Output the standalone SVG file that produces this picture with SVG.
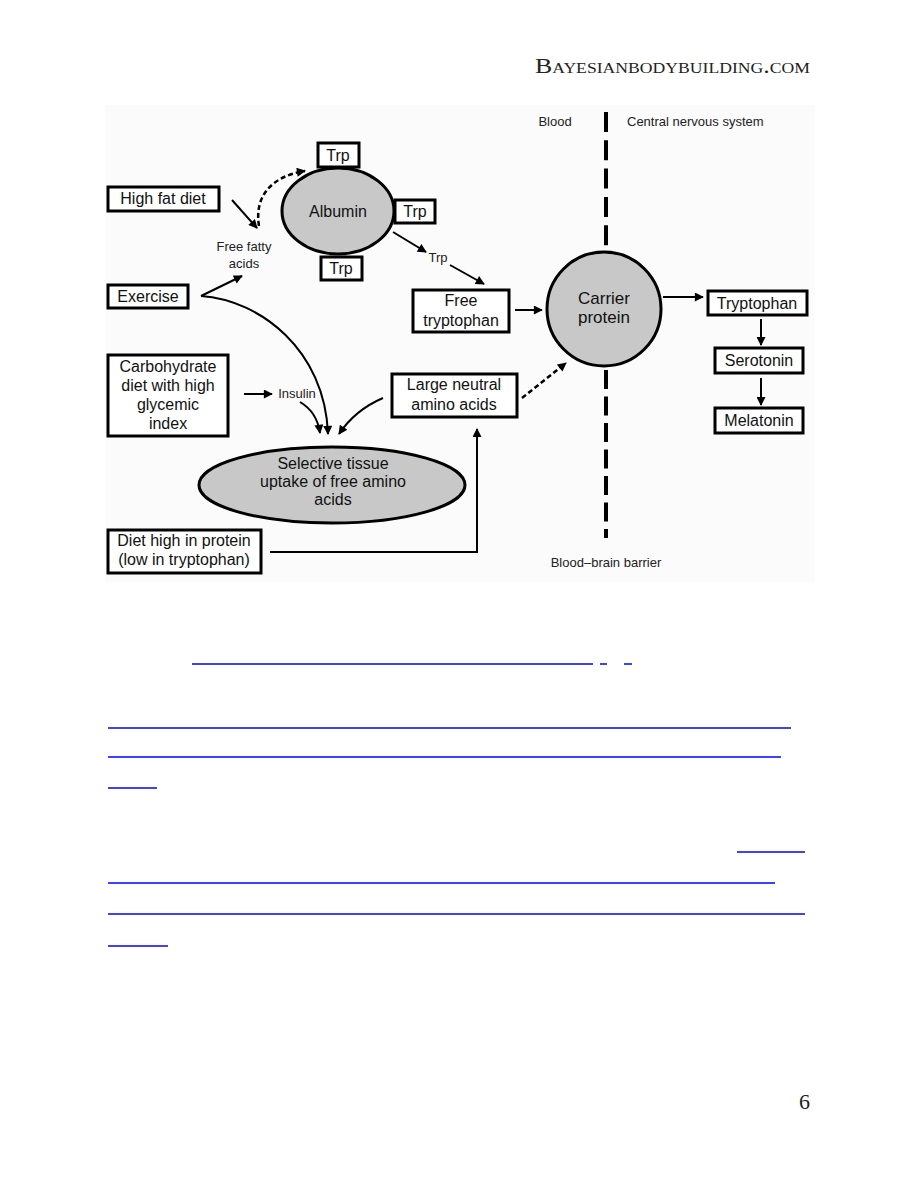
<svg xmlns="http://www.w3.org/2000/svg" width="918" height="1188" viewBox="0 0 918 1188">
<style>
.box{fill:#fff;stroke:#000;stroke-width:3}
.gray{fill:#c8c8c8;stroke:#000;stroke-width:3}
.t{font-family:"Liberation Sans",Arial,sans-serif;font-size:16px;fill:#111;text-anchor:middle}
.b{font-family:"Liberation Sans",Arial,sans-serif;font-size:17px;fill:#111;text-anchor:middle}
.e{font-family:"Liberation Sans",Arial,sans-serif;font-size:16px;fill:#111;text-anchor:middle}
.s{font-family:"Liberation Sans",Arial,sans-serif;font-size:13px;fill:#222;text-anchor:middle}
.st{font-family:"Liberation Sans",Arial,sans-serif;font-size:13px;fill:#222;text-anchor:start}
.c{fill:none;stroke:#000;stroke-width:2}
.d{fill:none;stroke:#000;stroke-width:2.5;stroke-dasharray:5 3}
.bl{stroke:#0000ff;stroke-width:1.5}
</style>
<defs>
<marker id="ah" viewBox="0 0 10 10" refX="9" refY="5" markerWidth="10" markerHeight="9" markerUnits="userSpaceOnUse" orient="auto">
<path d="M0,0 L10,5 L0,10 z" fill="#000"/>
</marker>
</defs>
<rect width="918" height="1188" fill="#fff"/>
<text x="810" y="73" text-anchor="end" font-family="Liberation Serif,serif" font-size="22" font-variant="small-caps" fill="#222" textLength="275" lengthAdjust="spacingAndGlyphs">Bayesianbodybuilding.com</text>
<rect x="105" y="105" width="710" height="477" fill="#fbfbfb"/>

<g id="connectors">
<line x1="606" y1="112" x2="606" y2="248" stroke="#000" stroke-width="4" stroke-dasharray="20 8.3"/>
<line x1="606" y1="370" x2="606" y2="538" stroke="#000" stroke-width="4" stroke-dasharray="19 7.5"/>
<line class="c" x1="232" y1="200" x2="257" y2="228" marker-end="url(#ah)"/>
<path class="d" d="M259,226 C254,196 272,176 305,171" marker-end="url(#ah)"/>
<line class="c" x1="201" y1="296" x2="242" y2="276" marker-end="url(#ah)"/>
<line class="c" x1="393" y1="232" x2="426" y2="252" marker-end="url(#ah)"/>
<line class="c" x1="450" y1="265" x2="484" y2="284" marker-end="url(#ah)"/>
<line class="c" x1="515" y1="310" x2="542" y2="310" marker-end="url(#ah)"/>
<line class="c" x1="663" y1="297" x2="703" y2="297" marker-end="url(#ah)"/>
<line class="c" x1="761" y1="319" x2="761" y2="345" marker-end="url(#ah)"/>
<line class="c" x1="761" y1="378" x2="761" y2="405" marker-end="url(#ah)"/>
<line class="d" x1="522" y1="398" x2="566" y2="363" marker-end="url(#ah)"/>
<path class="c" d="M201,296 C260,300 325,350 328,434" marker-end="url(#ah)"/>
<line class="c" x1="244" y1="394" x2="272" y2="394" marker-end="url(#ah)"/>
<path class="c" d="M300,402 Q317,412 320,433" marker-end="url(#ah)"/>
<path class="c" d="M383,398 Q355,410 339,434" marker-end="url(#ah)"/>
<path class="c" d="M270,552 L477,552 L477,429" marker-end="url(#ah)"/>
</g>

<g id="high-fat-diet"><rect class="box" x="108" y="187" width="111" height="24"/><text class="t" x="163" y="204">High fat diet</text></g>
<g id="exercise"><rect class="box" x="108" y="285" width="80" height="23"/><text class="t" x="148" y="302">Exercise</text></g>
<g id="carbohydrate"><rect class="box" x="108" y="355" width="120" height="81"/>
<text class="t" x="168" y="372">Carbohydrate</text><text class="t" x="168" y="391">diet with high</text><text class="t" x="168" y="410">glycemic</text><text class="t" x="168" y="429">index</text></g>
<g id="protein-diet"><rect class="box" x="108" y="530" width="153" height="43"/>
<text class="t" x="184" y="546">Diet high in protein</text><text class="t" x="184" y="565">(low in tryptophan)</text></g>
<g id="free-fatty-acids"><text class="s" x="244" y="251">Free fatty</text><text class="s" x="244" y="268">acids</text></g>
<g id="insulin"><text class="s" x="297" y="398">Insulin</text></g>
<g id="albumin"><ellipse class="gray" cx="338" cy="211" rx="56" ry="43"/><text class="t" x="338" y="217">Albumin</text></g>
<g id="trp-top"><rect class="box" x="318" y="143" width="41" height="24"/><text class="t" x="338" y="161">Trp</text></g>
<g id="trp-right"><rect class="box" x="395" y="200" width="40" height="23"/><text class="t" x="415" y="217">Trp</text></g>
<g id="trp-bottom"><rect class="box" x="321" y="257" width="41" height="23"/><text class="t" x="341" y="274">Trp</text></g>
<g id="trp-label"><text class="s" x="438" y="262">Trp</text></g>
<g id="free-tryptophan"><rect class="box" x="413" y="290" width="96" height="42"/>
<text class="t" x="461" y="306">Free</text><text class="t" x="461" y="326">tryptophan</text></g>
<g id="lnaa"><rect class="box" x="392" y="374" width="125" height="43"/>
<text class="t" x="454" y="390">Large neutral</text><text class="t" x="454" y="410">amino acids</text></g>
<g id="selective-uptake"><ellipse class="gray" cx="332" cy="485" rx="133" ry="38"/>
<text class="e" x="333" y="469">Selective tissue</text><text class="e" x="333" y="487">uptake of free amino</text><text class="e" x="333" y="505">acids</text></g>
<g id="carrier-protein"><circle class="gray" cx="604" cy="309" r="57"/>
<text class="b" x="604" y="304">Carrier</text><text class="b" x="604" y="323">protein</text></g>
<g id="tryptophan"><rect class="box" x="708" y="291" width="99" height="24"/><text class="t" x="757" y="309">Tryptophan</text></g>
<g id="serotonin"><rect class="box" x="715" y="348" width="88" height="25"/><text class="t" x="759" y="366">Serotonin</text></g>
<g id="melatonin"><rect class="box" x="715" y="408" width="88" height="25"/><text class="t" x="759" y="426">Melatonin</text></g>
<g id="labels">
<text class="s" x="555" y="126">Blood</text>
<text class="st" x="627" y="126">Central nervous system</text>
<text class="s" x="606" y="567">Blood–brain barrier</text>
</g>

<g id="links">
<line class="bl" x1="192" y1="664" x2="593" y2="664"/>
<line class="bl" x1="600" y1="664" x2="607" y2="664"/>
<line class="bl" x1="624" y1="664" x2="632" y2="664"/>
<line class="bl" x1="108" y1="728" x2="791" y2="728"/>
<line class="bl" x1="108" y1="757" x2="781" y2="757"/>
<line class="bl" x1="108" y1="788" x2="157" y2="788"/>
<line class="bl" x1="737" y1="852" x2="805" y2="852"/>
<line class="bl" x1="108" y1="883" x2="775" y2="883"/>
<line class="bl" x1="108" y1="914" x2="805" y2="914"/>
<line class="bl" x1="108" y1="946" x2="168" y2="946"/>
</g>
<text x="810" y="1109" text-anchor="end" font-family="Liberation Serif,serif" font-size="22" fill="#222">6</text>
</svg>
